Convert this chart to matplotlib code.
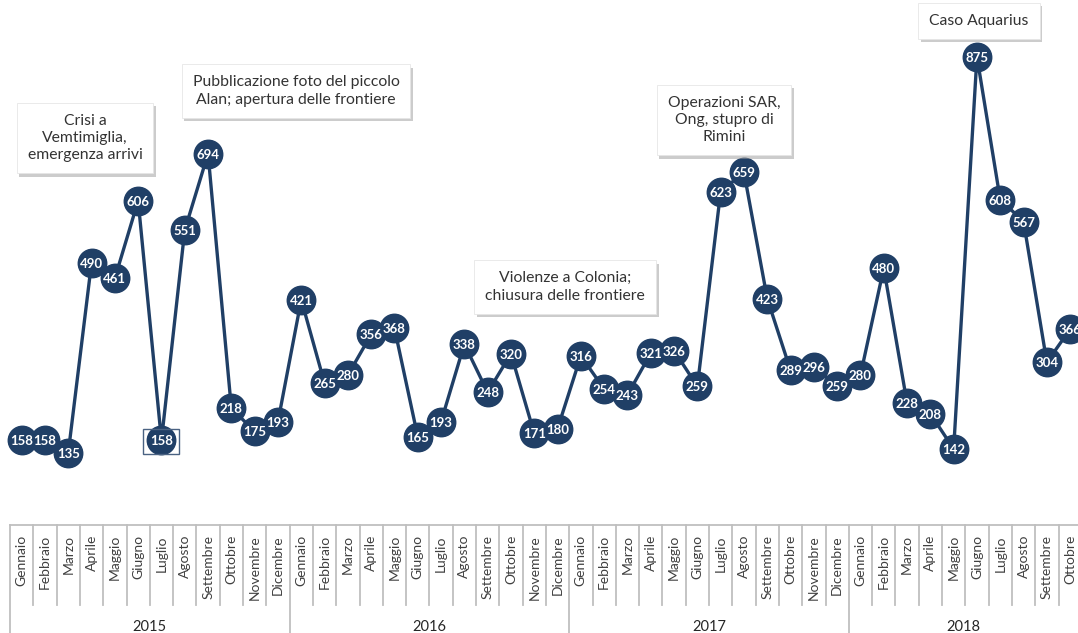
import matplotlib
matplotlib.use('Agg')
import matplotlib.pyplot as plt
import matplotlib.patheffects as pe
import matplotlib.transforms as mtransforms

# ---------------- data ----------------
years = ['2015', '2016', '2017', '2018']
months = ['Gennaio', 'Febbraio', 'Marzo', 'Aprile', 'Maggio', 'Giugno',
          'Luglio', 'Agosto', 'Settembre', 'Ottobre', 'Novembre', 'Dicembre']
values_2015 = [158, 158, 135, 490, 461, 606, 158, 551, 694, 218, 175, 193]
values_2016 = [421, 265, 280, 356, 368, 165, 193, 338, 248, 320, 171, 180]
values_2017 = [316, 254, 243, 321, 326, 259, 623, 659, 423, 289, 296, 259]
values_2018 = [280, 480, 228, 208, 142, 875, 608, 567, 304, 366]
highlighted_point = 6  # Luglio 2015 (selected in the original)

annotation_texts = [
    'Crisi a\nVemtimiglia,\nemergenza arrivi',
    'Pubblicazione foto del piccolo\nAlan; apertura delle frontiere',
    'Violenze a Colonia;\nchiusura delle frontiere',
    'Operazioni SAR,\nOng, stupro di\nRimini',
    'Caso Aquarius',
]
# box centres in figure pixels (layout only)
annotation_centres = [(85, 138), (296, 91), (565, 287), (724, 120), (979, 21)]

# ---------------- build series ----------------
series = [values_2015, values_2016, values_2017, values_2018]
values = [v for s in series for v in s]
labels = []
year_spans = []
for y, s in zip(years, series):
    start = len(labels)
    labels += months[:len(s)]
    year_spans.append((start, start + 12))
n = len(values)
x = list(range(n))

plt.rcParams['font.family'] = ['Lato', 'DejaVu Sans']

W, H = 1078, 633
fig = plt.figure(figsize=(W / 100, H / 100), dpi=100)
axis_px = 525
ax = fig.add_axes([0, (H - axis_px) / H, 1, axis_px / H])

navy = '#203f66'
grey = '#bfbfbf'
px_per_cat = 23.3
left_px = 10
ax.set_xlim(-0.5 - left_px / px_per_cat, -0.5 + (W - left_px) / px_per_cat)
ax.set_ylim(0, 981)
ax.axis('off')

ax.plot(x, values, color=navy, lw=2.4, zorder=2, solid_joinstyle='round')
ax.plot(x, values, 'o', ms=20.5, color=navy, mec=navy, zorder=3)
for xi, v in zip(x, values):
    kw = {}
    if xi == highlighted_point:
        kw['bbox'] = dict(boxstyle='square,pad=0.5', fc='none', ec='#4a6282', lw=1.0)
    ax.text(xi, v, str(v), ha='center', va='center_baseline', color='white',
            fontsize=9.5, fontweight='bold', zorder=4, **kw)

# ---------------- category axis ----------------
tr = mtransforms.blended_transform_factory(ax.transData, ax.transAxes)
month_row_bottom = -80 / axis_px
bottom = -108 / axis_px
xmax = ax.get_xlim()[1]
ax.plot([-0.5, xmax], [0, 0], color=grey, lw=1.3, transform=tr, clip_on=False)
year_starts = [s for s, e in year_spans]
for b in range(n + 1):
    bx = b - 0.5
    y0 = bottom if (b in year_starts or b == n) else month_row_bottom
    ax.plot([bx, bx], [0, y0], color=grey, lw=1.3, transform=tr, clip_on=False)
for xi, lab in zip(x, labels):
    ax.text(xi, -10 / axis_px, lab, rotation=90, ha='center', va='top',
            fontsize=10, color='#404040', transform=tr)
for y, (s, e) in zip(years, year_spans):
    cx = ((s - 0.5) + min(e - 0.5, xmax)) / 2
    ax.text(cx, -102 / axis_px, y, ha='center', va='center', fontsize=10.5,
            color='#262626', transform=tr)

# ---------------- annotation boxes ----------------
for txt, (cx, cy) in zip(annotation_texts, annotation_centres):
    t = fig.text(cx / W, 1 - cy / H, txt, ha='center', va='center',
                 fontsize=11.3, color='#333333', linespacing=1.3, multialignment='center',
                 bbox=dict(boxstyle='square,pad=0.7', fc='white', ec='#e6e6e6', lw=0.6),
                 zorder=5)
    t.get_bbox_patch().set_path_effects([
        pe.SimplePatchShadow(offset=(2, -2.5), shadow_rgbFace='#9a9a9a', alpha=0.5),
        pe.Normal()])

fig.savefig('out.png', dpi=100)
